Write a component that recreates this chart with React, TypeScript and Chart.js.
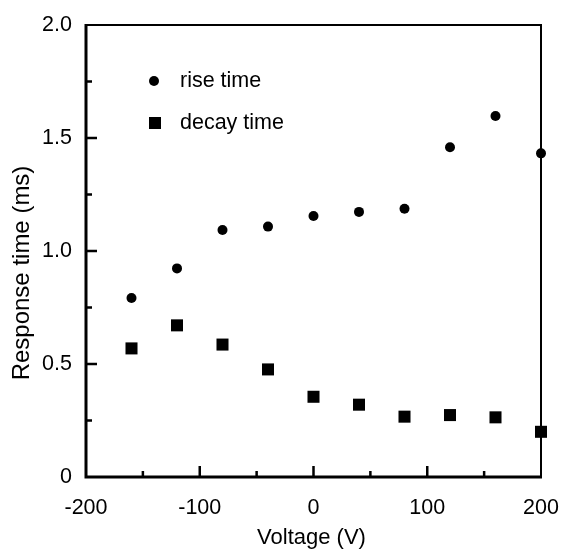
import React, { useEffect, useRef } from "react";
import { Chart, registerables } from "chart.js";

Chart.register(...registerables);

const voltages = [-160, -120, -80, -40, 0, 40, 80, 120, 160, 200];
const riseTime = [0.792, 0.923, 1.093, 1.108, 1.155, 1.173, 1.187, 1.459, 1.597, 1.432];
const decayTime = [0.569, 0.671, 0.586, 0.476, 0.355, 0.32, 0.267, 0.274, 0.264, 0.2];
const seriesNames = ["rise time", "decay time"];
const xTitle = "Voltage (V)";
const yTitle = "Response time (ms)";
const xMajor = [-100, 0, 100];
const xMinor = [-150, -50, 50, 150];
const yMajor = [0.5, 1.0, 1.5];
const yMinor = [0.25, 0.75, 1.25, 1.75];

const FONT = "'Liberation Sans', Arial, Helvetica, sans-serif";

const decorPlugin = {
  id: "decor",
  beforeDatasetsDraw(chart: any) {
    const { ctx, chartArea } = chart;
    const { left, right, top, bottom } = chartArea;
    const xs = chart.scales.x;
    const ys = chart.scales.y;
    ctx.save();
    ctx.strokeStyle = "#000";
    ctx.lineCap = "butt";
    // frame
    ctx.lineWidth = 2;
    ctx.beginPath();
    ctx.moveTo(left, top);
    ctx.lineTo(right, top);
    ctx.lineTo(right, bottom);
    ctx.stroke();
    ctx.lineWidth = 3;
    ctx.beginPath();
    ctx.moveTo(left, top - 1);
    ctx.lineTo(left, bottom);
    ctx.lineTo(right + 1, bottom);
    ctx.stroke();
    // ticks
    ctx.lineWidth = 2.5;
    ctx.beginPath();
    xMajor.forEach((v) => {
      const px = xs.getPixelForValue(v);
      ctx.moveTo(px, bottom);
      ctx.lineTo(px, bottom - 11);
    });
    xMinor.forEach((v) => {
      const px = xs.getPixelForValue(v);
      ctx.moveTo(px, bottom);
      ctx.lineTo(px, bottom - 6);
    });
    yMajor.forEach((v) => {
      const py = ys.getPixelForValue(v);
      ctx.moveTo(left, py);
      ctx.lineTo(left + 11, py);
    });
    yMinor.forEach((v) => {
      const py = ys.getPixelForValue(v);
      ctx.moveTo(left, py);
      ctx.lineTo(left + 6, py);
    });
    ctx.stroke();

    // axis titles
    ctx.fillStyle = "#000";
    ctx.font = `22px ${FONT}`;
    ctx.textAlign = "center";
    ctx.textBaseline = "middle";
    ctx.fillText(xTitle, (left + right) / 2 - 2, 538);
    ctx.save();
    ctx.translate(22, 273);
    ctx.rotate(-Math.PI / 2);
    ctx.font = `24px ${FONT}`;
    ctx.fillText(yTitle, 0, 0);
    ctx.restore();

    // legend
    const lx = left + 68;
    const ly1 = top + 56;
    const ly2 = top + 98;
    ctx.beginPath();
    ctx.arc(lx, ly1, 5, 0, Math.PI * 2);
    ctx.fill();
    ctx.fillRect(lx + 1 - 6, ly2 - 6, 12, 12);
    ctx.font = `21.5px ${FONT}`;
    ctx.textAlign = "left";
    ctx.fillText(seriesNames[0], left + 94, ly1);
    ctx.fillText(seriesNames[1], left + 94, ly2);
    ctx.restore();
  },
};

export default function App() {
  const ref = useRef<HTMLCanvasElement | null>(null);
  useEffect(() => {
    if (!ref.current) return;
    Chart.defaults.color = "#000";
    const chart = new Chart(ref.current, {
      type: "scatter",
      data: {
        datasets: [
          {
            label: seriesNames[0],
            data: voltages.map((x, i) => ({ x, y: riseTime[i] })),
            pointStyle: "circle",
            pointRadius: 5,
            backgroundColor: "#000",
            borderColor: "#000",
            borderWidth: 0,
            clip: false,
          },
          {
            label: seriesNames[1],
            data: voltages.map((x, i) => ({ x, y: decayTime[i] })),
            pointStyle: "rect",
            pointRadius: 8.5,
            backgroundColor: "#000",
            borderColor: "#000",
            borderWidth: 0,
            clip: false,
          },
        ],
      },
      options: {
        animation: false,
        responsive: true,
        maintainAspectRatio: false,
        layout: { padding: { top: 25, right: 21, left: 0, bottom: 0 } },
        plugins: {
          legend: { display: false },
          tooltip: { enabled: false },
        },
        scales: {
          x: {
            type: "linear",
            min: -200,
            max: 200,
            grid: { display: false, drawTicks: false, tickLength: 0 },
            border: { display: false },
            ticks: {
              stepSize: 100,
              padding: 18,
              color: "#000",
              font: { family: FONT, size: 21.5 },
              maxRotation: 0,
              callback: (v: any) => String(v),
            },
            afterFit: (s: any) => {
              s.height = 73;
              s.paddingLeft = 0;
              s.paddingRight = 0;
            },
          },
          y: {
            type: "linear",
            min: 0,
            max: 2,
            grid: { display: false, drawTicks: false, tickLength: 0 },
            border: { display: false },
            ticks: {
              stepSize: 0.5,
              padding: 14,
              color: "#000",
              font: { family: FONT, size: 21.5 },
              callback: (v: any) => (v === 0 ? "0" : Number(v).toFixed(1)),
            },
            afterFit: (s: any) => {
              s.width = 86;
              s.paddingTop = 0;
              s.paddingBottom = 0;
            },
          },
        },
      },
      plugins: [decorPlugin],
    });
    return () => chart.destroy();
  }, []);
  return (
    <div style={{ position: "fixed", left: 0, top: 0, width: 562, height: 550, background: "#fff" }}>
      <canvas ref={ref} />
    </div>
  );
}
